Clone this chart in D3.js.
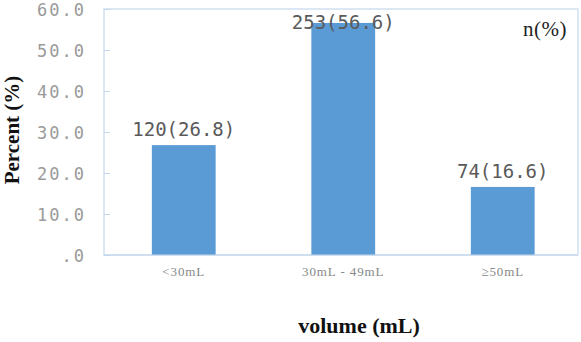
<!DOCTYPE html>
<html>
<head>
<meta charset="utf-8">
<script src="https://cdn.jsdelivr.net/npm/d3@7"></script>
<style>
body { margin: 0; background: #fff; }
</style>
</head>
<body>
<svg id="chart" width="581" height="342"></svg>
<script>
var categories = ["<30mL", "30mL - 49mL", "\u226550mL"]
var counts = [120, 253, 74]
var percents = [26.8, 56.6, 16.6]
var tickValues = [0, 10, 20, 30, 40, 50, 60]
var tickLabels = [".0", "10.0", "20.0", "30.0", "40.0", "50.0", "60.0"]

var chart = d3.select("#chart")

const LEFT = 104, RIGHT = 578, TOP = 9, BOTTOM = 255

var x = d3.scaleBand().domain(categories).range([LEFT, 582.5])
	.paddingInner(0.6).paddingOuter(0.3)
var y = d3.scaleLinear().domain([0, 60]).range([BOTTOM, TOP])

// frame
chart.append("rect")
	.attr("x", LEFT).attr("y", TOP)
	.attr("width", RIGHT - LEFT).attr("height", BOTTOM - TOP)
	.attr("fill", "none")
	.attr("stroke", "#c3d8ec")
	.attr("stroke-width", 1.2)

// y axis ticks and labels
var yAxis = chart.append("g")
	.attr("transform", "translate(" + LEFT + ",0)")
	.call(d3.axisRight(y).tickValues(tickValues).tickSize(6)
		.tickFormat((d, i) => tickLabels[i]))
yAxis.select(".domain").remove()
yAxis.selectAll("line").attr("stroke", "#c3d8ec")
yAxis.selectAll("text")
	.attr("x", -18)
	.attr("dy", "0.36em")
	.attr("text-anchor", "end")
	.attr("fill", "#9a9a9a")
	.style("font-family", "DejaVu Sans Mono")
	.style("font-size", "17px")
	.style("letter-spacing", "2px")

// bars
var data = categories.map((c, i) => ({cat: c, n: counts[i], pct: percents[i]}))
chart.selectAll("rect.bar").data(data).enter()
	.append("rect")
		.attr("class", "bar")
		.attr("x", d => x(d.cat))
		.attr("y", d => y(d.pct))
		.attr("width", x.bandwidth())
		.attr("height", d => y(0) - y(d.pct))
		.attr("fill", "#5b9bd5")

// bottom line over bars
chart.append("line")
	.attr("x1", LEFT).attr("x2", RIGHT)
	.attr("y1", BOTTOM).attr("y2", BOTTOM)
	.attr("stroke", "#c3d8ec").attr("stroke-width", 1.2)

// value labels
chart.selectAll("text.val").data(data).enter()
	.append("text")
		.attr("class", "val")
		.attr("x", d => x(d.cat) + x.bandwidth() / 2)
		.attr("y", d => Math.max(y(d.pct) - 9, TOP + 20))
		.attr("text-anchor", "middle")
		.attr("fill", "#5a5a5a")
		.style("font-family", "DejaVu Sans Mono")
		.style("font-size", "19px")
		.text(d => d.n + "(" + d.pct.toFixed(1) + ")")

// category labels
chart.selectAll("text.cat").data(data).enter()
	.append("text")
		.attr("class", "cat")
		.attr("x", d => x(d.cat) + x.bandwidth() / 2)
		.attr("y", 276)
		.attr("text-anchor", "middle")
		.attr("fill", "#888")
		.style("font-family", "Liberation Serif")
		.style("font-size", "13px")
		.style("letter-spacing", "0.9px")
		.text(d => d.cat)

// n(%) note
chart.append("text")
	.attr("x", 567).attr("y", 36)
	.attr("text-anchor", "end")
	.attr("fill", "#222")
	.style("font-family", "Liberation Serif")
	.style("font-size", "21px")
	.style("letter-spacing", "0.5px")
	.text("n(%)")

// axis titles
chart.append("text")
	.attr("x", 359).attr("y", 333)
	.attr("text-anchor", "middle")
	.attr("fill", "#111")
	.style("font-family", "Liberation Serif")
	.style("font-size", "22px")
	.style("font-weight", "bold")
	.text("volume (mL)")

chart.append("text")
	.attr("transform", "translate(19,130) rotate(-90)")
	.attr("text-anchor", "middle")
	.attr("fill", "#111")
	.style("font-family", "Liberation Serif")
	.style("font-size", "21px")
	.style("font-weight", "bold")
	.text("Percent (%)")
</script>
</body>
</html>
